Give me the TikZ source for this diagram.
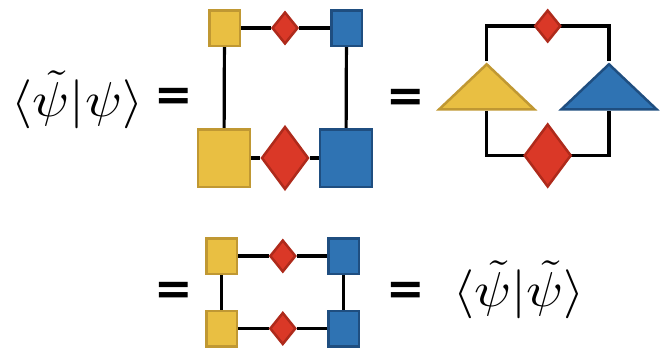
\documentclass[tikz,border=0pt]{standalone}
\usepackage{fontspec}
\usepackage{graphicx}
\usetikzlibrary{shapes.geometric,backgrounds}
\newfontfamily\eqfont{DejaVu Sans}
\definecolor{yfill}{HTML}{E9BF42}
\definecolor{ydraw}{HTML}{C09833}
\definecolor{rfill}{HTML}{DA3827}
\definecolor{rdraw}{HTML}{AE2A1B}
\definecolor{bfill}{HTML}{2F73B3}
\definecolor{bdraw}{HTML}{1F4E80}
\tikzset{
  ysq/.style={rectangle, draw=ydraw, fill=yfill, line width=2.5pt, inner sep=0pt},
  bsq/.style={rectangle, draw=bdraw, fill=bfill, line width=2.5pt, inner sep=0pt},
  smallsq/.style={minimum width=30.5pt, minimum height=35.5pt},
  bigsq/.style={minimum width=52pt, minimum height=57.5pt},
  rdia/.style={diamond, draw=rdraw, fill=rfill, line width=2.5pt, inner sep=0pt},
  smalldia/.style={minimum width=26pt, minimum height=32pt},
  bigdia/.style={minimum width=47pt, minimum height=63pt},
  tri/.style={isosceles triangle, isosceles triangle stretches, shape border rotate=90,
    line width=2.5pt, inner sep=0pt, minimum width=95pt, minimum height=45pt},
  ytri/.style={tri, draw=ydraw, fill=yfill},
  btri/.style={tri, draw=bdraw, fill=bfill},
  wire/.style={draw=black, line width=3.2pt},
  eqsign/.style={inner sep=0pt, font=\eqfont\bfseries\fontsize{46}{46}\selectfont},
  mathtxt/.style={inner sep=0pt, anchor=base}
}
\begin{document}
\begin{tikzpicture}[x=1pt,y=-1pt]
\useasboundingbox (0,0) rectangle (667,348);
% equation texts
\node[mathtxt] (lhs) at (77.5,116.5) {\scalebox{5.4}[4.9]{$\langle\tilde\psi|\psi\rangle$}};
\node[mathtxt] (rhs) at (519,306) {\scalebox{5.4}[4.9]{$\langle\tilde\psi|\tilde\psi\rangle$}};
\node[eqsign] (eq1) at (174,99) {=};
\node[eqsign] (eq2) at (406,100) {=};
\node[eqsign] (eq3) at (174,293) {=};
\node[eqsign] (eq4) at (406,293.5) {=};
% top-left network
\node[ysq, smallsq] (a1) at (224.5,28) {};
\node[rdia, smalldia] (a2) at (285,28) {};
\node[bsq, smallsq] (a3) at (346.5,28) {};
\node[ysq, bigsq] (a4) at (224,158) {};
\node[rdia, bigdia] (a5) at (285,158) {};
\node[bsq, bigsq] (a6) at (346,158) {};
% top-right network
\node[ytri, anchor=apex] (t1) at (486.7,61) {};
\node[btri, anchor=apex] (t2) at (609,61) {};
\node[rdia, smalldia] (t3) at (547.7,26) {};
\node[rdia, bigdia] (t4) at (547.7,155.5) {};
% bottom network
\node[ysq, smallsq] (b1) at (221.7,256) {};
\node[rdia, smalldia] (b2) at (282.8,256) {};
\node[bsq, smallsq] (b3) at (343.7,256) {};
\node[ysq, smallsq] (b4) at (221.7,328.5) {};
\node[rdia, smalldia] (b5) at (282.8,328.5) {};
\node[bsq, smallsq] (b6) at (343.7,328.5) {};
\begin{scope}[on background layer]
\draw[wire] (a1) -- (a2) -- (a3);
\draw[wire] (a4) -- (a5) -- (a6);
\draw[wire] (a1) -- (a4);
\draw[wire] (a3) -- (a6);
\draw[wire] (t1.apex) |- (t3.center) -| (t2.apex);
\draw[wire] (t1.lower side) |- (t4.center) -| (t2.lower side);
\draw[wire] (b1) -- (b2) -- (b3);
\draw[wire] (b4) -- (b5) -- (b6);
\draw[wire] (b1) -- (b4);
\draw[wire] (b3) -- (b6);
\end{scope}
\end{tikzpicture}
\end{document}
